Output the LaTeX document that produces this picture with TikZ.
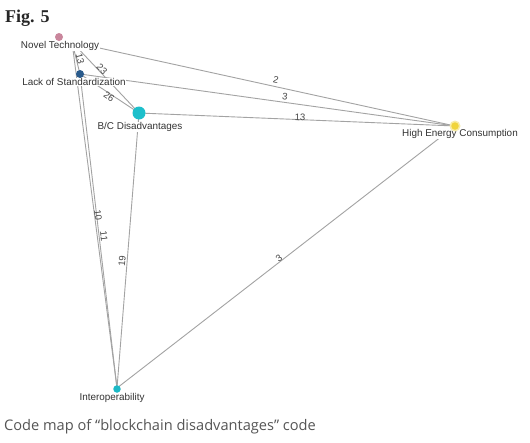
\documentclass[tikz,border=0pt]{standalone}
\usepackage{fontspec}
\setmainfont{Liberation Sans}
\newfontfamily\capfont{Open Sans}
\newfontfamily\figfont{Liberation Serif}
\definecolor{edgec}{HTML}{A3A3A3}
\definecolor{labc}{HTML}{333333}
\definecolor{elabc}{HTML}{444444}
\definecolor{ntc}{HTML}{C9869C}
\definecolor{lsc}{HTML}{2A5B8C}
\definecolor{bcc}{HTML}{1DBFCB}
\definecolor{hec}{HTML}{F0D43C}
\definecolor{inc}{HTML}{1CB9C6}
\definecolor{capc}{HTML}{555555}
\begin{document}
\begin{tikzpicture}[x=1pt,y=-1pt,
  edge/.style={draw=edgec,line width=0.9pt},
  dotnode/.style={circle,inner sep=0pt,draw=none},
  namelab/.style={font=\fontsize{9.9}{10}\selectfont,text=labc,fill=white,inner sep=0.6pt},
  elab/.style={font=\fontsize{9.5}{10}\selectfont,text=elabc,inner sep=0pt}]
\useasboundingbox (0,0) rectangle (530,442);
\fill[white] (0,0) rectangle (530,442);
% anchor points of the edges
\coordinate (ntA) at (72,42);
\coordinate (lsA) at (80,74);
\coordinate (bcA) at (139,113);
\coordinate (heA) at (455,126);
\coordinate (inA) at (117,388);
% edges
\draw[edge] (ntA) -- (heA);
\draw[edge] (lsA) -- (heA);
\draw[edge] (bcA) -- (heA);
\draw[edge] (heA) -- (inA);
\draw[edge] (bcA) -- (inA);
\draw[edge] (ntA) -- (inA);
\draw[edge] (lsA) -- (inA);
\draw[edge] (ntA) -- (lsA);
\draw[edge] (ntA) -- (bcA);
\draw[edge] (lsA) -- (bcA);
% edge labels
\node[elab,rotate=-12.7] (l1) at (276,80) {2};
\node[elab,rotate=-8.3] (l2) at (285,97) {3};
\node[elab,rotate=-2.8] (l3) at (300,117) {13};
\node[elab,rotate=38] (l4) at (279,258) {3};
\node[elab,rotate=85] (l5) at (122,261) {19};
\node[elab,rotate=-82.7] (l6) at (98,215) {10};
\node[elab,rotate=-83.3] (l7) at (104,236) {11};
\node[elab,rotate=-76] (l8) at (80,58.5) {13};
\node[elab,rotate=-46.7] (l9) at (102,69.5) {23};
\node[elab,rotate=-33.5] (l10) at (109,96.5) {26};
% node labels
\node[namelab] (ntl) at (60,46) {Novel Technology};
\node[namelab] (lsl) at (74,82) {Lack of Standardization};
\node[namelab] (bcl) at (140,127) {B/C Disadvantages};
\node[namelab] (hel) at (460,134) {High Energy Consumption};
\node[namelab] (inl) at (112,398) {Interoperability};
% dots
\node[dotnode,fill=ntc,minimum size=8pt] (nt) at (59,37) {};
\node[dotnode,fill=lsc,minimum size=8pt] (ls) at (80,74) {};
\node[dotnode,fill=bcc,minimum size=13pt] (bc) at (139,113) {};
\node[dotnode,fill=hec!45,minimum size=11pt] (heglow) at (455,126) {};
\node[dotnode,fill=hec,minimum size=7.5pt] (he) at (455,126) {};
\node[dotnode,fill=inc,minimum size=7.5pt] (in) at (117,389) {};
% title and caption
\node[anchor=west,inner sep=0pt,font=\figfont\bfseries\fontsize{18}{20}\selectfont,text=black!85] (fig) at (5,18) {Fig. 5};
\node[anchor=west,inner sep=0pt,font=\capfont\fontsize{14.6}{16}\selectfont,text=capc] (cap) at (4,427) {Code map of “blockchain disadvantages” code};
\end{tikzpicture}
\end{document}
